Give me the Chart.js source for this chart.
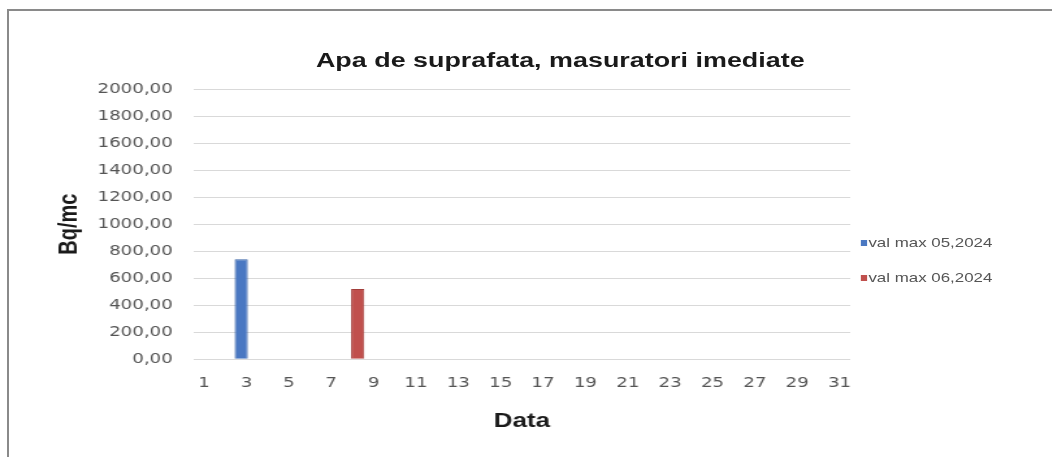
<!DOCTYPE html>
<html>
<head>
<meta charset="utf-8">
<script src="https://cdn.jsdelivr.net/npm/chart.js@4.4.1/dist/chart.umd.min.js"></script>
<style>
  html, body { margin: 0; padding: 0; background: #fff; }
  #page { position: relative; width: 1052px; height: 457px; overflow: hidden; }
  #frame {
    position: absolute; left: 7px; top: 9px; right: -4px; bottom: -4px;
    border-left: 2px solid #8a8a8a; border-top: 2px solid #8a8a8a;
  }
  /* the original picture is stretched horizontally, so is this */
  #wrap {
    position: absolute; left: 0; top: 0; width: 809px; height: 457px;
    transform: scaleX(1.3); transform-origin: 0 0;
  }
  #title {
    position: absolute; left: 181px; width: 500px; top: 48px;
    text-align: center; font: bold 20.7px "Liberation Sans", Arial, sans-serif; color: #1a1a1a;
  }
  #legend {
    position: absolute; left: 662px; top: 235px;
    font: 13px "Liberation Sans", Arial, sans-serif; color: #555;
  }
  #legend div { height: 35px; line-height: 16px; white-space: nowrap; }
  #legend span.box { display: inline-block; width: 5px; height: 6px; margin-right: 1px; vertical-align: 1px; }
  #chart { position: absolute; left: 0; top: 0; }
</style>
</head>
<body>
<div id="page">
  <div id="frame"></div>
  <div id="wrap">
    <div id="title">Apa de suprafata, masuratori imediate</div>
    <canvas id="chart" width="809" height="457"></canvas>
    <div id="legend"></div>
  </div>
</div>
<script>
// zilele lunii
const days = ['1', '2', '3', '4', '5', '6', '7', '8', '9', '10',
  '11', '12', '13', '14', '15', '16', '17', '18', '19', '20',
  '21', '22', '23', '24', '25', '26', '27', '28', '29', '30', '31'];

// valori maxime (Bq/mc), null = fara masuratoare
const valMax052024 = [null, null, 740, null, null, null, null, null, null, null,
  null, null, null, null, null, null, null, null, null, null,
  null, null, null, null, null, null, null, null, null, null, null];
const valMax062024 = [null, null, null, null, null, null, null, 520, null, null,
  null, null, null, null, null, null, null, null, null, null,
  null, null, null, null, null, null, null, null, null, null, null];

const seriesNames = ['val max 05,2024', 'val max 06,2024'];
const seriesColors = ['#4a78c2', '#c0504d'];
const seriesBorders = ['#3a63a6', '#a23e3b'];

const tickFont = { family: '"DejaVu Sans", sans-serif', size: 14 };
const axisTitleFont = { family: '"Liberation Sans", Arial, sans-serif', size: 20, weight: 'bold' };

const chart = new Chart(document.getElementById('chart').getContext('2d'), {
  type: 'bar',
  data: {
    labels: days,
    datasets: [
      {
        label: seriesNames[0],
        data: valMax052024,
        backgroundColor: seriesColors[0],
        borderColor: seriesBorders[0],
        borderWidth: 1,
        categoryPercentage: 1.0,
        barPercentage: 1.25
      },
      {
        label: seriesNames[1],
        data: valMax062024,
        backgroundColor: seriesColors[1],
        borderColor: seriesBorders[1],
        borderWidth: 1,
        categoryPercentage: 1.0,
        barPercentage: 1.25
      }
    ]
  },
  options: {
    responsive: false,
    animation: false,
    layout: { padding: { left: 41, right: 155, top: 89, bottom: 24 } },
    scales: {
      x: {
        grid: { display: false },
        border: { display: false },
        ticks: {
          autoSkip: false,
          maxRotation: 0,
          color: '#555',
          font: tickFont,
          padding: 7.5,
          callback: function (value, index) {
            return index % 2 === 0 ? this.getLabelForValue(value) : '';
          }
        },
        title: { display: true, text: 'Data', color: '#1a1a1a', font: axisTitleFont, padding: { top: 10, bottom: 0 } }
      },
      y: {
        min: 0,
        max: 2000,
        grid: { color: '#d9d9d9', drawTicks: false },
        border: { display: false },
        ticks: {
          stepSize: 200,
          color: '#555',
          font: tickFont,
          padding: 16,
          callback: v => v.toFixed(2).replace('.', ',')
        },
        title: { display: true, text: 'Bq/mc', color: '#1a1a1a', font: axisTitleFont, padding: { top: 0, bottom: -6 } }
      }
    },
    plugins: {
      legend: { display: false },
      tooltip: { enabled: false }
    }
  }
});

// legenda in dreapta
const legend = document.getElementById('legend');
chart.data.datasets.forEach(ds => {
  const row = document.createElement('div');
  const box = document.createElement('span');
  box.className = 'box';
  box.style.background = ds.backgroundColor;
  row.appendChild(box);
  row.appendChild(document.createTextNode(ds.label));
  legend.appendChild(row);
});
</script>
</body>
</html>
